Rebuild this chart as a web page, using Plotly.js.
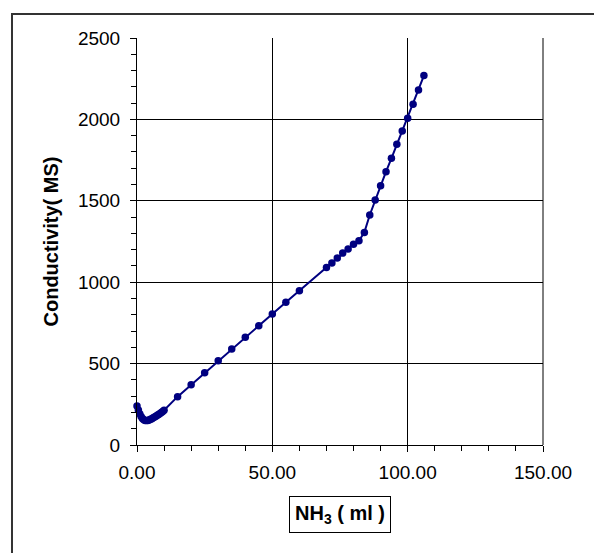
<!DOCTYPE html>
<html>
<head>
<meta charset="utf-8">
<script src="https://cdn.plot.ly/plotly-3.0.1.min.js"></script>
<style>html,body{margin:0;padding:0;background:#fff;}#chart{width:594px;height:553px;}</style>
</head>
<body>
<div id="chart"></div>
<script>
// NH3 volume (ml)
const nh3Volume = [0, 0.5, 1, 1.5, 2, 2.5, 3, 3.5, 4, 4.5, 5, 5.5, 6, 6.5, 7, 7.5, 8, 8.5, 9, 9.5, 10,
  15, 20, 25, 30, 35, 40, 45, 50, 55, 60,
  70, 72, 74, 76, 78, 80, 82, 84, 86, 88, 90, 92, 94, 96, 98, 100, 102, 104, 106];
// Conductivity (MS)
const conductivity = [240, 215, 192, 175, 163, 155, 151, 150, 151, 154, 158, 162, 167, 172, 177, 182, 188, 194, 200, 206, 213,
  297, 370, 444, 518, 590, 662, 733, 805, 877, 948,
  1090, 1118, 1148, 1179, 1204, 1233, 1255, 1306, 1413, 1505, 1593, 1679, 1761, 1847, 1929, 2007, 2093, 2181, 2269];

const xTitle = 'NH<sub>3</sub> ( ml )';
const yTitle = 'Conductivity( MS)';

const font = 'Arial, "Liberation Sans", sans-serif';

const trace = {
  x: nh3Volume,
  y: conductivity,
  type: 'scatter',
  mode: 'lines+markers',
  line: {color: '#000080', width: 2},
  marker: {color: '#000080', size: 7.5},
  cliponaxis: false,
  showlegend: false
};

const layout = {
  width: 594,
  height: 553,
  margin: {l: 137, r: 51, t: 38, b: 108},
  paper_bgcolor: '#ffffff',
  plot_bgcolor: '#ffffff',
  font: {family: font, size: 19, color: '#000'},
  xaxis: {
    range: [0, 150],
    tick0: 0, dtick: 50,
    tickformat: '.2f',
    ticks: 'outside', ticklen: 6, tickcolor: '#000', tickwidth: 1,
    minor: {dtick: 10, ticks: 'outside', ticklen: 5, tickcolor: '#000', showgrid: false},
    showgrid: true, gridcolor: '#000', gridwidth: 1,
    showline: true, linecolor: '#000', linewidth: 1,
    zeroline: false,
    ticklabelstandoff: 4,
    tickfont: {family: font, size: 19, color: '#000'},
    fixedrange: true
  },
  yaxis: {
    range: [0, 2500],
    tick0: 0, dtick: 500,
    ticks: 'outside', ticklen: 6, tickcolor: '#000', tickwidth: 1,
    minor: {dtick: 100, ticks: 'outside', ticklen: 5, tickcolor: '#000', showgrid: false},
    showgrid: true, gridcolor: '#000', gridwidth: 1,
    showline: true, linecolor: '#000', linewidth: 1,
    zeroline: false,
    ticklabelstandoff: 6,
    tickfont: {family: font, size: 19, color: '#000'},
    title: {text: '<b>' + yTitle + '</b>', font: {family: font, size: 20, color: '#000'}, standoff: 13},
    fixedrange: true
  },
  shapes: [
    {type: 'rect', xref: 'paper', yref: 'paper', x0: -0.3079, x1: 1.2, y0: -0.3, y1: 1.059,
     line: {color: '#333', width: 2}, fillcolor: 'rgba(0,0,0,0)', layer: 'below'},
    {type: 'line', xref: 'paper', yref: 'paper', x0: 1, x1: 1, y0: 0, y1: 1, line: {color: '#000', width: 1}}
  ],
  annotations: [
    {xref: 'paper', yref: 'paper', x: 0.5, y: -0.125, xanchor: 'center', yanchor: 'top',
     text: '<b>' + xTitle + '</b>', showarrow: false,
     font: {family: font, size: 20, color: '#000'},
     bordercolor: '#000', borderwidth: 1, borderpad: 5, bgcolor: '#fff'}
  ]
};

Plotly.newPlot('chart', [trace], layout, {staticPlot: true, displayModeBar: false});
</script>
</body>
</html>
